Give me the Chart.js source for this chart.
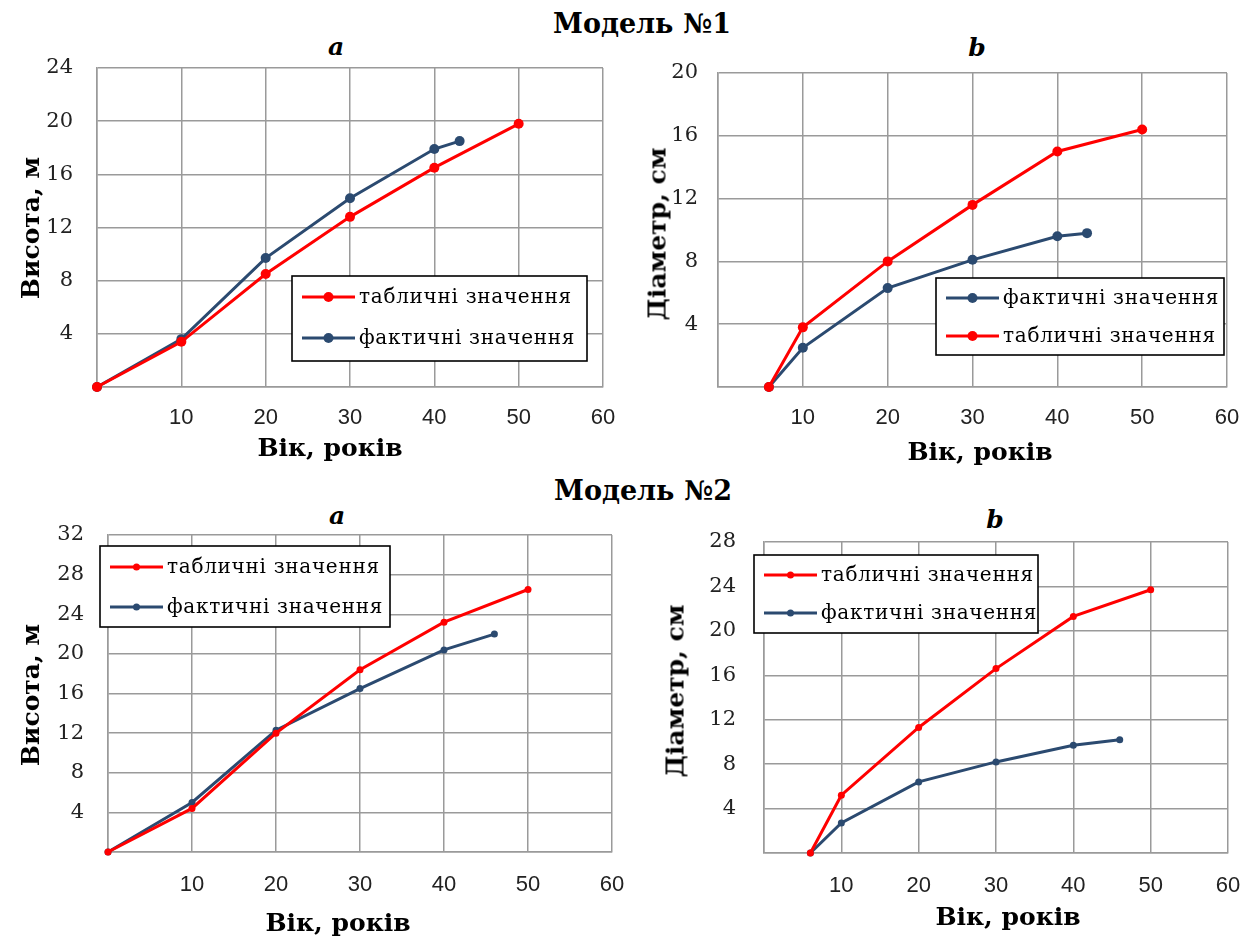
<!DOCTYPE html>
<html lang="uk">
<head>
<meta charset="utf-8">
<title>Модель №1, Модель №2</title>
<script src="https://cdn.jsdelivr.net/npm/chart.js@4.4.1/dist/chart.umd.min.js"></script>
<style>
  body { margin: 0; background: #fff; }
  #page { position: relative; width: 1257px; height: 936px; overflow: hidden; font-family: "DejaVu Serif", "Liberation Serif", serif; color: #000; }
  canvas { position: absolute; }
  .txt { position: absolute; white-space: nowrap; line-height: 1; transform: translate(-50%, -50%); }
  .head { font-weight: bold; font-size: 27px; }
  .sub { font-weight: bold; font-style: italic; font-size: 25px; }
  .axis { font-weight: bold; font-size: 25px; }
  .rot { transform: translate(-50%, -50%) rotate(-90deg); }
</style>
</head>
<body>
<div id="page">
  <div class="txt head" style="left:642px; top:23px;">Модель №1</div>
  <div class="txt sub" style="left:336px; top:46px;">a</div>
  <div class="txt sub" style="left:977px; top:47px;">b</div>
  <div class="txt head" style="left:643px; top:490px;">Модель №2</div>
  <div class="txt sub" style="left:337px; top:515px;">a</div>
  <div class="txt sub" style="left:995px; top:519px;">b</div>

  <canvas id="c1a" width="630" height="420" style="left:0px; top:50px;"></canvas>
  <canvas id="c1b" width="627" height="420" style="left:630px; top:50px;"></canvas>
  <canvas id="c2a" width="640" height="421" style="left:0px; top:515px;"></canvas>
  <canvas id="c2b" width="617" height="421" style="left:640px; top:515px;"></canvas>

  <div class="txt axis rot" style="left:30px; top:228px;">Висота, м</div>
  <div class="txt axis" style="left:330px; top:447px;">Вік, років</div>
  <div class="txt axis rot" style="left:657px; top:234px;">Діаметр, см</div>
  <div class="txt axis" style="left:980px; top:451px;">Вік, років</div>
  <div class="txt axis rot" style="left:30px; top:695px;">Висота, м</div>
  <div class="txt axis" style="left:338px; top:922px;">Вік, років</div>
  <div class="txt axis rot" style="left:675px; top:691px;">Діаметр, см</div>
  <div class="txt axis" style="left:1008px; top:916px;">Вік, років</div>
</div>

<script>
// Модель №1, висота
const m1HeightAgeTab = [0, 10, 20, 30, 40, 50];
const m1HeightTab = [0, 3.4, 8.5, 12.8, 16.5, 19.8];
const m1HeightAgeFact = [0, 10, 20, 30, 40, 43];
const m1HeightFact = [0, 3.6, 9.7, 14.2, 17.9, 18.5];

// Модель №1, діаметр
const m1DiamAgeTab = [6, 10, 20, 30, 40, 50];
const m1DiamTab = [0, 3.8, 8.0, 11.6, 15.0, 16.4];
const m1DiamAgeFact = [6, 10, 20, 30, 40, 43.5];
const m1DiamFact = [0, 2.5, 6.3, 8.1, 9.6, 9.8];

// Модель №2, висота
const m2HeightAgeTab = [0, 10, 20, 30, 40, 50];
const m2HeightTab = [0, 4.4, 12.0, 18.4, 23.2, 26.5];
const m2HeightAgeFact = [0, 10, 20, 30, 40, 46];
const m2HeightFact = [0, 5.0, 12.3, 16.5, 20.4, 22.0];

// Модель №2, діаметр
const m2DiamAgeTab = [6, 10, 20, 30, 40, 50];
const m2DiamTab = [0, 5.2, 11.3, 16.6, 21.3, 23.7];
const m2DiamAgeFact = [6, 10, 20, 30, 40, 46];
const m2DiamFact = [0, 2.7, 6.4, 8.2, 9.7, 10.2];

// підписи осей
const ageTicks = [0, 10, 20, 30, 40, 50, 60];
const m1HeightTicks = [0, 4, 8, 12, 16, 20, 24];
const m1DiamTicks = [0, 4, 8, 12, 16, 20];
const m2HeightTicks = [0, 4, 8, 12, 16, 20, 24, 28, 32];
const m2DiamTicks = [0, 4, 8, 12, 16, 20, 24, 28];

const labelTab = 'табличні значення';
const labelFact = 'фактичні значення';

const RED = '#ff0000';
const BLUE = '#2b4a70';
const GRID = '#9a9a9a';
const SERIF = '"DejaVu Serif", "Liberation Serif", serif';

const pts = (xs, ys) => xs.map((x, i) => ({ x: x, y: ys[i] }));

// легенда в рамці всередині області графіка
const boxLegend = {
  id: 'boxLegend',
  afterDraw(chart, args, opts) {
    const ctx = chart.ctx;
    const b = opts.box;
    ctx.save();
    ctx.fillStyle = '#fff';
    ctx.fillRect(b.x, b.y, b.w, b.h);
    ctx.strokeStyle = '#000';
    ctx.lineWidth = 1.6;
    ctx.strokeRect(b.x, b.y, b.w, b.h);
    opts.order.forEach((di, i) => {
      const ds = chart.data.datasets[di];
      const y = opts.rows[i];
      const x0 = b.x + 10, x1 = b.x + 63;
      ctx.strokeStyle = ds.borderColor;
      ctx.lineWidth = ds.borderWidth;
      ctx.beginPath();
      ctx.moveTo(x0, y);
      ctx.lineTo(x1, y);
      ctx.stroke();
      ctx.fillStyle = ds.borderColor;
      ctx.beginPath();
      ctx.arc((x0 + x1) / 2, y, ds.pointRadius, 0, Math.PI * 2);
      ctx.fill();
      ctx.fillStyle = '#000';
      ctx.font = '20px ' + SERIF;
      ctx.letterSpacing = '0.7px';
      ctx.textBaseline = 'middle';
      ctx.textAlign = 'left';
      ctx.fillText(ds.label, b.x + 67, y + 1);
    });
    ctx.restore();
  }
};

function makeChart(id, cfg) {
  const line = (label, color, data, r) => ({
    label: label,
    data: data,
    borderColor: color,
    backgroundColor: color,
    borderWidth: 3,
    pointRadius: r,
    pointBorderWidth: 0,
    pointBackgroundColor: color,
    showLine: true,
    tension: 0,
    clip: false
  });
  return new Chart(document.getElementById(id), {
    type: 'scatter',
    data: {
      datasets: [
        line(labelTab, RED, cfg.tab, cfg.r),
        line(labelFact, BLUE, cfg.fact, cfg.r)
      ]
    },
    options: {
      responsive: false,
      animation: false,
      layout: { padding: cfg.pad },
      plugins: {
        legend: { display: false },
        tooltip: { enabled: false },
        boxLegend: cfg.legend
      },
      scales: {
        x: {
          type: 'linear',
          min: ageTicks[0],
          max: ageTicks[ageTicks.length - 1],
          afterBuildTicks: s => { s.ticks = ageTicks.map(v => ({ value: v })); },
          afterFit: s => {
            s.height = cfg.xh;
            s.paddingLeft = 0;
            s.paddingRight = 0;
          },
          grid: { color: GRID, lineWidth: 1.5, drawTicks: false },
          border: { color: GRID, width: 1.5 },
          ticks: {
            padding: cfg.xpad,
            color: '#222',
            font: { family: '"Liberation Sans", sans-serif', size: 22 },
            maxRotation: 0,
            autoSkip: false,
            callback: v => (v === 0 ? '' : v)
          }
        },
        y: {
          type: 'linear',
          min: cfg.yTicks[0],
          max: cfg.yTicks[cfg.yTicks.length - 1],
          afterBuildTicks: s => { s.ticks = cfg.yTicks.map(v => ({ value: v })); },
          afterFit: s => {
            s.width = cfg.yw;
            s.paddingTop = 0;
            s.paddingBottom = 0;
          },
          grid: { color: GRID, lineWidth: 1.5, drawTicks: false },
          border: { color: GRID, width: 1.5 },
          ticks: {
            padding: cfg.ypad,
            color: '#222',
            font: { family: SERIF, size: 21 },
            autoSkip: false,
            callback: v => (v === 0 ? '' : v)
          }
        }
      }
    },
    plugins: [boxLegend]
  });
}

makeChart('c1a', {
  tab: pts(m1HeightAgeTab, m1HeightTab),
  fact: pts(m1HeightAgeFact, m1HeightFact),
  yTicks: m1HeightTicks, r: 5,
  pad: { top: 18, right: 27, bottom: 0, left: 0 },
  yw: 97, xh: 83, xpad: 18, ypad: 24,
  legend: { box: { x: 292, y: 226, w: 295, h: 85 }, rows: [247, 288], order: [0, 1] }
});

makeChart('c1b', {
  tab: pts(m1DiamAgeTab, m1DiamTab),
  fact: pts(m1DiamAgeFact, m1DiamFact),
  yTicks: m1DiamTicks, r: 5,
  pad: { top: 23, right: 30, bottom: 0, left: 0 },
  yw: 88, xh: 83, xpad: 18, ypad: 20,
  legend: { box: { x: 306, y: 228, w: 288, h: 77 }, rows: [248, 286], order: [1, 0] }
});

makeChart('c2a', {
  tab: pts(m2HeightAgeTab, m2HeightTab),
  fact: pts(m2HeightAgeFact, m2HeightFact),
  yTicks: m2HeightTicks, r: 3.5,
  pad: { top: 20, right: 28, bottom: 0, left: 0 },
  yw: 108, xh: 84, xpad: 20, ypad: 24,
  legend: { box: { x: 100, y: 31, w: 290, h: 81 }, rows: [52, 92], order: [0, 1] }
});

makeChart('c2b', {
  tab: pts(m2DiamAgeTab, m2DiamTab),
  fact: pts(m2DiamAgeFact, m2DiamFact),
  yTicks: m2DiamTicks, r: 3.5,
  pad: { top: 27, right: 29, bottom: 0, left: 0 },
  yw: 124, xh: 83, xpad: 20, ypad: 28,
  legend: { box: { x: 114, y: 40, w: 284, h: 78 }, rows: [60, 98], order: [0, 1] }
});
</script>
</body>
</html>
